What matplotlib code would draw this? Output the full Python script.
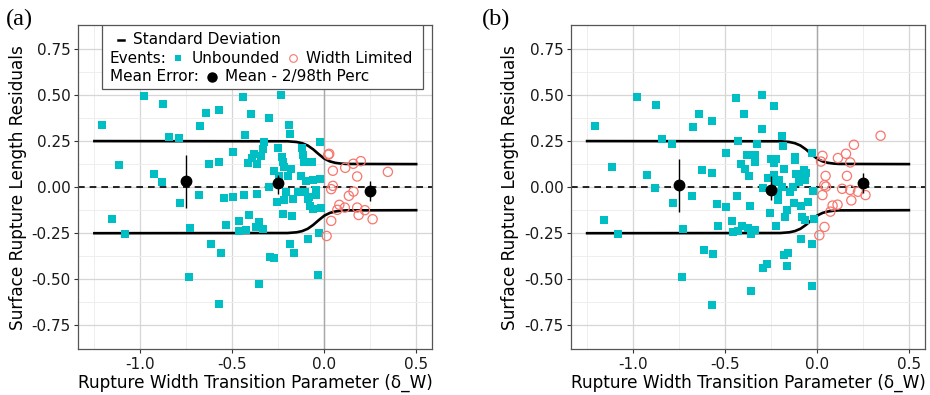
import numpy as np
import matplotlib
matplotlib.use("Agg")
import matplotlib.pyplot as plt
from matplotlib.patches import Rectangle

# Cores padrao do ggplot
CIANO = "#00BFC4"
VERMELHO = "#F8766D"

# ---------------- dados (a) ----------------
a_unb_x = [-1.207, -1.116, -0.980, -0.879, -0.924, -0.884, -0.844, -0.790, -0.678, -0.641,
           -0.572, -0.625, -0.572, -0.495, -0.440, -0.400, -0.429, -0.415, -0.391, -0.382,
           -0.364, -0.344, -0.335, -0.325, -0.299, -0.236, -0.252, -0.192, -0.184, -0.023,
           -0.120, -0.117, -0.228, -0.223, -0.217, -0.179, -0.272, -0.245, -0.199, -0.112,
           -0.092, -0.067, -0.127, -0.100, -0.063, -0.023, -0.302, -0.364, -0.168, -0.136,
           -0.208, -0.145, -0.105, -0.047, -0.047, -0.082, -0.217, -0.259, -0.087, -0.078,
           -0.063, -0.016, -0.226, -0.176, -0.353, -0.373, -0.335, -0.029, -0.087, -0.185,
           -0.163, -0.297, -0.273, -0.033, -0.355, -1.155, -1.083, -0.784, -0.728, -0.734,
           -0.681, -0.617, -0.563, -0.572, -0.545, -0.536, -0.496, -0.462, -0.462, -0.438,
           -0.427, -0.408]
a_unb_y = [0.335, 0.118, 0.493, 0.451, 0.072, 0.027, 0.270, 0.268, 0.333, 0.400,
           0.417, 0.127, 0.138, 0.192, 0.489, 0.399, 0.283, 0.130, 0.158, 0.180,
           0.124, 0.168, 0.206, 0.244, 0.378, 0.502, 0.213, 0.337, 0.288, 0.244,
           0.212, 0.174, 0.161, 0.134, 0.107, 0.101, 0.089, 0.061, 0.063, 0.136,
           0.136, 0.134, 0.061, 0.032, 0.040, 0.043, 0.002, -0.038, -0.064, -0.027,
           -0.024, -0.024, -0.024, -0.018, -0.045, -0.054, -0.069, -0.080, -0.065, -0.100,
           -0.118, -0.111, -0.147, -0.156, -0.189, -0.217, -0.228, -0.247, -0.279, -0.306,
           -0.357, -0.377, -0.383, -0.475, -0.527, -0.174, -0.252, -0.084, -0.221, -0.486,
           -0.040, -0.308, -0.359, -0.636, -0.060, -0.207, -0.051, -0.183, -0.238, -0.040,
           -0.234, -0.151]
a_lim_x = [0.027, 0.022, 0.047, 0.114, 0.158, 0.199, 0.179, 0.346, 0.038, 0.047,
           0.159, 0.134, 0.082, 0.071, 0.112, 0.179, 0.187, 0.221, 0.263, 0.038, 0.013]
a_lim_y = [0.181, 0.176, 0.089, 0.105, 0.127, 0.141, 0.058, 0.083, -0.011, 0.007,
           -0.024, -0.047, -0.096, -0.123, -0.111, -0.111, -0.151, -0.125, -0.174, -0.183, -0.265]
a_media = [0.031, 0.020, -0.022]
a_p02 = [-0.115, -0.035, -0.075]
a_p98 = [0.176, 0.067, 0.034]

# ---------------- dados (b) ----------------
b_unb_x = [-1.207, -1.114, -0.978, -0.875, -0.842, -0.790, -0.922, -0.882, -0.783, -0.678,
           -0.676, -0.640, -0.571, -0.623, -0.571, -0.545, -0.497, -0.495, -0.440, -0.399,
           -0.429, -0.437, -0.380, -0.411, -0.390, -0.370, -0.365, -1.156, -1.080, -0.727,
           -0.732, -0.616, -0.564, -0.573, -0.536, -0.460, -0.459, -0.429, -0.406, -0.375,
           -0.357, -0.299, -0.234, -0.299, -0.192, -0.185, -0.324, -0.339, -0.339, -0.250,
           -0.223, -0.234, -0.118, -0.122, -0.179, -0.026, -0.266, -0.236, -0.205, -0.223,
           -0.296, -0.190, -0.145, -0.130, -0.114, -0.073, -0.058, -0.067, -0.096, -0.090,
           -0.024, -0.127, -0.085, -0.046, -0.165, -0.254, -0.210, -0.212, -0.176, -0.080,
           -0.063, -0.018, -0.223, -0.335, -0.357, -0.085, -0.027, -0.181, -0.158, -0.163,
           -0.272, -0.293, -0.029]
b_unb_y = [0.332, 0.112, 0.489, 0.447, 0.264, 0.234, 0.067, -0.005, -0.088, -0.046,
           0.329, 0.397, 0.357, 0.094, 0.076, -0.092, -0.110, 0.186, 0.485, 0.395,
           0.250, -0.046, 0.177, 0.127, 0.098, 0.061, -0.101, -0.179, -0.255, -0.225,
           -0.489, -0.341, -0.362, -0.640, -0.210, -0.185, -0.241, -0.237, -0.212, -0.223,
           -0.562, 0.500, 0.442, 0.317, 0.275, 0.224, 0.234, 0.174, 0.134, 0.152,
           0.155, 0.130, 0.163, 0.148, 0.098, 0.183, 0.052, 0.067, 0.041, 0.029,
           -0.002, 0.003, -0.029, 0.000, 0.071, 0.094, 0.079, 0.040, 0.030, 0.068,
           -0.020, -0.087, -0.100, -0.080, -0.124, -0.143, -0.027, -0.071, -0.160, -0.163,
           -0.178, -0.174, -0.209, -0.234, -0.254, -0.283, -0.308, -0.368, -0.357, -0.426,
           -0.417, -0.440, -0.535]
b_lim_x = [0.346, 0.201, 0.158, 0.114, 0.181, 0.030, 0.022, 0.047, 0.163, 0.040,
           0.049, 0.137, 0.181, 0.223, 0.030, 0.187, 0.264, 0.085, 0.112, 0.073, 0.041, 0.013]
b_lim_y = [0.279, 0.230, 0.181, 0.158, 0.134, 0.170, 0.139, 0.061, 0.061, 0.011,
           0.003, -0.009, -0.015, -0.025, -0.043, -0.072, -0.043, -0.100, -0.095, -0.133, -0.216, -0.261]
b_media = [0.011, -0.016, 0.020]
b_p02 = [-0.133, -0.069, -0.033]
b_p98 = [0.154, 0.061, 0.076]

# posicao dos pontos de erro medio (igual nos dois graficos)
media_x = [-0.75, -0.25, 0.25]

# desvio padrao (igual nos dois graficos)
dp_x = [-1.25, -0.20, -0.15, -0.12, -0.09, -0.06, -0.03, 0.00, 0.03, 0.06, 0.09, 0.12, 0.50]
dp_y = [0.250, 0.249, 0.245, 0.2385, 0.226, 0.205, 0.179, 0.155, 0.140, 0.132, 0.128, 0.126, 0.125]

xticks = [-1.0, -0.5, 0.0, 0.5]
yticks = [-0.75, -0.50, -0.25, 0.00, 0.25, 0.50, 0.75]
ytick_labels = ["-0.75", "-0.50", "-0.25", "0.00", "0.25", "0.50", "0.75"]

fig = plt.figure(figsize=(9.3, 3.95), dpi=100)


def desenha_painel(ax, unb_x, unb_y, lim_x, lim_y, media, p02, p98):
    ax.set_xlim(-1.3375, 0.5875)
    ax.set_ylim(-0.88, 0.88)
    # grade estilo theme_bw
    ax.set_xticks([-1.25, -0.75, -0.25, 0.25], minor=True)
    ax.set_yticks([-0.625, -0.375, -0.125, 0.125, 0.375, 0.625], minor=True)
    ax.grid(True, which="major", color="#d6d6d6", lw=0.9, zorder=0)
    ax.grid(True, which="minor", color="#eeeeee", lw=0.7, zorder=0)
    ax.tick_params(which="minor", length=0)
    ax.set_axisbelow(True)
    ax.axvline(0, color="#a8a8a8", lw=1.0, zorder=1)
    ax.axhline(0, color="black", lw=1.2, ls=(0, (4, 3)), zorder=2)

    dp = np.array(dp_y)
    ax.plot(dp_x, dp, color="black", lw=1.9, zorder=3)
    ax.plot(dp_x, -dp, color="black", lw=1.9, zorder=3)

    ax.scatter(unb_x, unb_y, marker="s", s=36, color=CIANO, linewidths=0, zorder=4)
    ax.scatter(lim_x, lim_y, marker="o", s=44, facecolors="none", edgecolors=VERMELHO,
               linewidths=0.9, zorder=4)

    media = np.array(media)
    erro = [media - np.array(p02), np.array(p98) - media]
    ax.errorbar(media_x, media, yerr=erro, fmt="o", color="black", ms=7.5,
                elinewidth=1.0, capsize=0, zorder=5)

    ax.set_xticks(xticks)
    ax.set_xticklabels(["-1.0", "-0.5", "0.0", "0.5"])
    ax.set_yticks(yticks)
    ax.set_yticklabels(ytick_labels)
    ax.tick_params(which="major", labelsize=11, length=3, width=0.8, pad=2.5,
                   color="#333333", labelcolor="#1a1a1a")
    for lado in ax.spines.values():
        lado.set_color("#555555")
        lado.set_linewidth(0.9)
    ax.set_xlabel("Rupture Width Transition Parameter (δ_W)", fontsize=12.2, labelpad=1)
    ax.set_ylabel("Surface Rupture Length Residuals", fontsize=12.2, labelpad=3.5)


ax_a = fig.add_axes([0.0842, 0.1157, 0.3806, 0.821])
ax_b = fig.add_axes([0.614, 0.1157, 0.3806, 0.821])

desenha_painel(ax_a, a_unb_x, a_unb_y, a_lim_x, a_lim_y, a_media, a_p02, a_p98)
desenha_painel(ax_b, b_unb_x, b_unb_y, b_lim_x, b_lim_y, b_media, b_p02, b_p98)

# Legenda feita a mao (estilo ggplot) no painel (a)
T = ax_a.transAxes
ax_a.add_patch(Rectangle((0.067, 0.803), 0.907, 0.197, transform=T, facecolor="white",
                         edgecolor="#555555", lw=0.9, zorder=6))
ax_a.plot([0.113, 0.129], [0.954, 0.954], transform=T, color="black", lw=1.8, zorder=7)
ax_a.text(0.154, 0.954, "Standard Deviation", transform=T, fontsize=11, va="center", zorder=7)
ax_a.text(0.0895, 0.898, "Events:", transform=T, fontsize=11, va="center", zorder=7)
ax_a.plot([0.282], [0.898], transform=T, marker="s", ms=5, color=CIANO, mew=0, zorder=7)
ax_a.text(0.321, 0.898, "Unbounded", transform=T, fontsize=11, va="center", zorder=7)
ax_a.plot([0.607], [0.898], transform=T, marker="o", ms=5.5, mfc="none", mec=VERMELHO,
          mew=0.8, zorder=7)
ax_a.text(0.643, 0.898, "Width Limited", transform=T, fontsize=11, va="center", zorder=7)
ax_a.text(0.0895, 0.840, "Mean Error:", transform=T, fontsize=11, va="center", zorder=7)
ax_a.plot([0.378], [0.840], transform=T, marker="o", ms=6.5, color="black", zorder=7)
ax_a.text(0.414, 0.840, "Mean - 2/98th Perc", transform=T, fontsize=11, va="center", zorder=7)

# letras dos paineis
fig.text(0.006, 0.952, "(a)", family="Liberation Serif", fontsize=17.5, va="center")
fig.text(0.518, 0.952, "(b)", family="Liberation Serif", fontsize=17.5, va="center")

fig.savefig("out.png", dpi=100)
